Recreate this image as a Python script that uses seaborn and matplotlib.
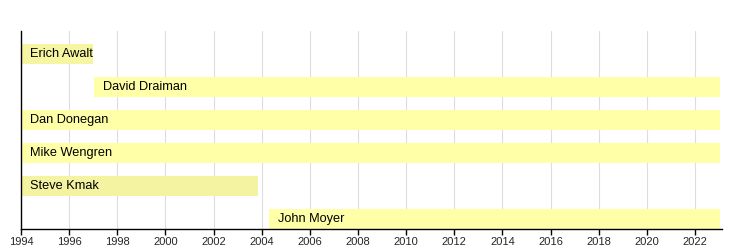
import matplotlib
matplotlib.use("Agg")
import matplotlib.pyplot as plt
import seaborn as sns
import pandas as pd

members = ["Erich Awalt", "David Draiman", "Dan Donegan", "Mike Wengren", "Steve Kmak", "John Moyer"]
starts = [1994.0, 1997.05, 1994.0, 1994.0, 1994.0, 2004.3]
ends = [1997.0, 2023.05, 2023.05, 2023.05, 2003.85, 2023.05]
colors = ["#f5f5a2", "#ffffa8", "#ffffa8", "#ffffa8", "#f3f3a2", "#ffffa8"]
ticks = list(range(1994, 2023, 2))

df = pd.DataFrame({"member": members, "start": starts, "end": ends, "color": colors})

sns.set_style("white")
plt.rcParams["font.family"] = ["Liberation Sans", "DejaVu Sans"]

fig = plt.figure(figsize=(7.5, 2.5), dpi=100)
ax = fig.add_axes([0.028, 0.084, 0.9347, 0.792])

ypos = list(range(len(df)))
ax.barh(ypos, df["end"] - df["start"], left=df["start"], height=0.6,
        color=df["color"], edgecolor="none", zorder=2)
for y, (name, s) in enumerate(zip(df["member"], df["start"])):
    ax.text(s + 0.37, y, name, va="center", ha="left", fontsize=9.2, color="black", zorder=3)

ax.set_xlim(1994, 2023.12)
ax.set_ylim(5.3, -0.69)
ax.set_xticks(ticks)
ax.set_xticklabels([str(t) for t in ticks], fontsize=8)
ax.set_yticks([])
ax.grid(axis="x", color="#dddddd", linewidth=0.8, zorder=0)
ax.grid(axis="y", visible=False)
for side in ["top", "right"]:
    ax.spines[side].set_visible(False)
for side in ["left", "bottom"]:
    ax.spines[side].set_color("black")
    ax.spines[side].set_linewidth(1.0)
ax.tick_params(axis="x", bottom=True, direction="out", length=4, width=1, color="black", pad=2)
ax.set_xlabel("")
ax.set_ylabel("")

fig.savefig("out.png", dpi=100)
